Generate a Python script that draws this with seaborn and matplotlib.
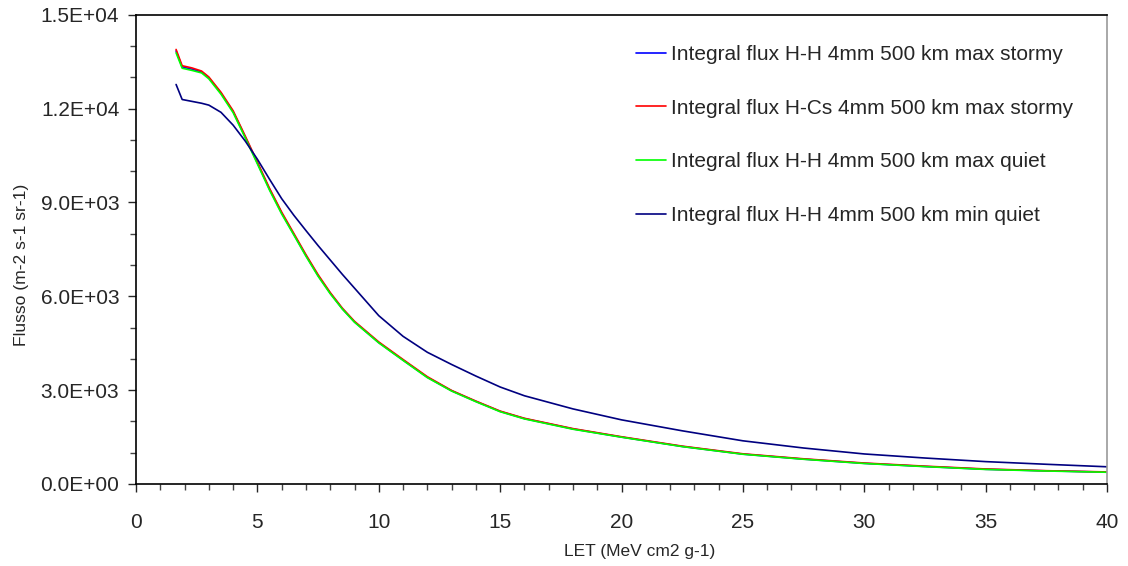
import numpy as np
import pandas as pd
import seaborn as sns
import matplotlib.pyplot as plt
from matplotlib.ticker import MultipleLocator, FuncFormatter

# LET values (MeV cm2 g-1)
let = [1.65, 1.9, 2.3, 2.7, 3.0, 3.5, 4.0, 4.5, 5.0, 5.5, 6.0, 6.5, 7.0, 7.5, 8.0,
       8.5, 9.0, 10.0, 11.0, 12.0, 13.0, 14.0, 15.0, 16.0, 18.0, 20.0, 22.5, 25.0,
       27.5, 30.0, 32.5, 35.0, 37.5, 40.0]

# Integral flux (m-2 s-1 sr-1)
hh_max_stormy = [13840, 13330, 13260, 13170, 12980, 12490, 11900, 11090, 10260, 9420, 8660,
                 7980, 7300, 6660, 6100, 5600, 5180, 4520, 3960, 3410, 2980, 2640, 2320,
                 2090, 1760, 1500, 1200, 955, 795, 660, 560, 470, 420, 380]
hcs_max_stormy = [13890, 13370, 13300, 13200, 13010, 12520, 11930, 11120, 10290, 9450, 8690,
                  8010, 7330, 6690, 6120, 5620, 5200, 4540, 3980, 3430, 2990, 2650, 2330,
                  2100, 1770, 1510, 1210, 965, 805, 670, 570, 480, 425, 385]
hh_max_quiet = [13780, 13290, 13220, 13140, 12950, 12460, 11870, 11060, 10230, 9390, 8630,
                7960, 7280, 6640, 6080, 5590, 5170, 4510, 3950, 3400, 2970, 2630, 2310,
                2080, 1750, 1495, 1195, 950, 790, 655, 555, 465, 415, 375]
hh_min_quiet = [12770, 12290, 12230, 12170, 12110, 11880, 11470, 10960, 10380, 9740, 9120,
                8590, 8100, 7620, 7160, 6700, 6260, 5380, 4720, 4210, 3820, 3450, 3100,
                2820, 2400, 2050, 1700, 1380, 1150, 960, 830, 715, 630, 550]

labels = ["Integral flux H-H 4mm 500 km max stormy",
          "Integral flux H-Cs 4mm 500 km max stormy",
          "Integral flux H-H 4mm 500 km max quiet",
          "Integral flux H-H 4mm 500 km min quiet"]
colors = ["#0000ff", "#ff0000", "#00ff00", "#000080"]

# Long-form table for seaborn
frames = []
for lab, vals in zip(labels, [hh_max_stormy, hcs_max_stormy, hh_max_quiet, hh_min_quiet]):
    frames.append(pd.DataFrame({"LET": let, "flux": vals, "serie": lab}))
df = pd.concat(frames, ignore_index=True)

sns.set_style("ticks")
plt.rcParams['font.family'] = ['Liberation Sans', 'DejaVu Sans']

fig = plt.figure(figsize=(11.28, 5.66), dpi=100)
ax = fig.add_axes([0.1206, 0.1449, 0.8608, 0.8291])

for lab, col in zip(labels, colors):
    sub = df[df["serie"] == lab]
    sns.lineplot(data=sub, x="LET", y="flux", color=col, linewidth=1.2, ax=ax,
                 sort=False, estimator=None, label=lab, legend=False)

ax.set_xlim(0, 40)
ax.set_ylim(0, 15000)
ax.xaxis.set_major_locator(MultipleLocator(5))
ax.xaxis.set_minor_locator(MultipleLocator(1))
ax.yaxis.set_major_locator(MultipleLocator(3000))
ax.yaxis.set_minor_locator(MultipleLocator(1000))
ax.yaxis.set_major_formatter(FuncFormatter(lambda v, p: f"{v:.1E}"))

ax.tick_params(axis="x", which="major", direction="out", length=6, width=1, pad=15, labelsize=15)
ax.tick_params(axis="y", which="major", direction="out", length=6, width=1, pad=6, labelsize=15)
ax.tick_params(which="minor", direction="out", length=4, width=1, color="#444444")

for side in ["left", "bottom", "top"]:
    ax.spines[side].set_color("black")
    ax.spines[side].set_linewidth(1.2)
ax.spines["right"].set_color("#999999")
ax.spines["right"].set_linewidth(1.2)

ax.set_xlabel("LET (MeV cm2 g-1)", fontsize=12.5, labelpad=10)
ax.set_ylabel("Flusso (m-2 s-1 sr-1)", fontsize=12.6, labelpad=8)
ax.xaxis.set_label_coords(0.5185, -0.128)
ax.yaxis.label.set_y(0.468)

ax.legend(loc="upper left", bbox_to_anchor=(0.496, 0.975), frameon=False, fontsize=15,
          handlelength=1.44, handletextpad=0.2, labelspacing=1.66)

fig.savefig("out.png", dpi=100)
